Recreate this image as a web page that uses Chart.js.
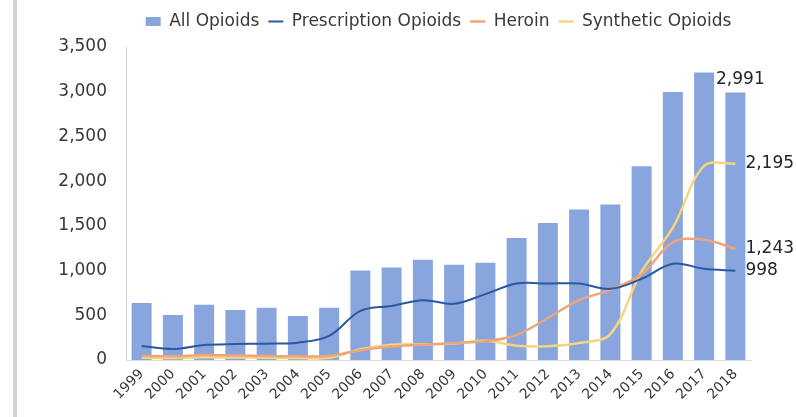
<!DOCTYPE html>
<html>
<head>
<meta charset="utf-8">
<script src="https://cdn.jsdelivr.net/npm/chart.js@4.4.0/dist/chart.umd.min.js"></script>
<style>
  html, body { margin: 0; padding: 0; background: #fff; }
</style>
</head>
<body>
<canvas id="myChart" width="796" height="417"></canvas>
<script>
const years = ['1999', '2000', '2001', '2002', '2003', '2004', '2005', '2006', '2007', '2008',
               '2009', '2010', '2011', '2012', '2013', '2014', '2015', '2016', '2017', '2018'];

const allOpioids = [636, 504, 617, 560, 583, 493, 583, 1001, 1035, 1121,
                    1065, 1087, 1364, 1532, 1682, 1738, 2167, 2997, 3214, 2991];
const prescriptionOpioids = [157, 123, 168, 179, 183, 194, 269, 549, 605, 669,
                             628, 737, 855, 855, 855, 796, 908, 1076, 1020, 998];
const heroin = [45, 42, 55, 50, 45, 42, 45, 110, 150, 170,
                190, 210, 280, 470, 670, 785, 960, 1315, 1345, 1243];
const syntheticOpioids = [25, 22, 30, 28, 25, 22, 25, 120, 170, 175,
                          185, 215, 160, 155, 190, 290, 990, 1480, 2170, 2195];

const yMax = 3500;
const yStep = 500;

const textColor = '#383838';
const fontFamily = '"DejaVu Sans", Verdana, sans-serif';

// thin grey rule down the left edge of the figure
const edgeRule = {
  id: 'edgeRule',
  beforeDraw(chart) {
    const ctx = chart.ctx;
    ctx.save();
    ctx.fillStyle = '#d2d2d2';
    ctx.fillRect(13, 0, 4, chart.height);
    ctx.restore();
  }
};

// fixed legend band height so the plot starts right under it
const legendBand = {
  id: 'legendBand',
  beforeInit(chart) {
    const fit = chart.legend.fit;
    chart.legend.fit = function () {
      fit.call(this);
      this.height = 43;
    };
  }
};

// value labels on the last year of every series
const endLabels = {
  id: 'endLabels',
  afterDatasetsDraw(chart) {
    const ctx = chart.ctx;
    ctx.save();
    ctx.font = '17px ' + fontFamily;
    ctx.fillStyle = '#262626';
    chart.data.datasets.forEach((ds, i) => {
      const meta = chart.getDatasetMeta(i);
      const last = ds.data.length - 1;
      const el = meta.data[last];
      const text = ds.data[last].toLocaleString('en-US');
      if (ds.type === 'bar') {
        ctx.textAlign = 'center';
        ctx.textBaseline = 'bottom';
        ctx.fillText(text, el.x + 5, el.y - 4);
      } else {
        ctx.textAlign = 'left';
        ctx.textBaseline = 'middle';
        ctx.fillText(text, el.x + 10, el.y);
      }
    });
    ctx.restore();
  }
};

const ctx = document.getElementById('myChart').getContext('2d');
const myChart = new Chart(ctx, {
  data: {
    labels: years,
    datasets: [{
      type: 'bar',
      label: 'All Opioids',
      data: allOpioids,
      backgroundColor: '#88a5de',
      categoryPercentage: 1,
      barPercentage: 0.64,
      pointStyle: 'rect',
      order: 1
    }, {
      type: 'line',
      label: 'Prescription Opioids',
      data: prescriptionOpioids,
      borderColor: '#2b58a2',
      borderWidth: 2,
      pointRadius: 0,
      pointStyle: 'line',
      tension: 0.35,
      order: 0
    }, {
      type: 'line',
      label: 'Heroin',
      data: heroin,
      borderColor: '#eea57a',
      borderWidth: 2.5,
      pointRadius: 0,
      pointStyle: 'line',
      tension: 0.35,
      order: 0
    }, {
      type: 'line',
      label: 'Synthetic Opioids',
      data: syntheticOpioids,
      borderColor: '#f6d57c',
      borderWidth: 2.5,
      pointRadius: 0,
      pointStyle: 'line',
      tension: 0.35,
      order: 0
    }]
  },
  options: {
    responsive: false,
    animation: false,
    layout: {
      padding: { top: 4, right: 45, left: 0, bottom: 0 }
    },
    scales: {
      x: {
        offset: true,
        grid: { display: false, drawTicks: false },
        border: { display: true, color: '#dcdcdc' },
        ticks: {
          color: textColor,
          font: { family: fontFamily, size: 14 },
          minRotation: 45,
          maxRotation: 45,
          autoSkip: false,
          padding: 6
        },
        afterFit(scale) { scale.height = 57; }
      },
      y: {
        min: 0,
        max: yMax,
        grid: { display: false, drawTicks: false },
        border: { display: true, color: '#d6d6d6' },
        ticks: {
          stepSize: yStep,
          color: textColor,
          font: { family: fontFamily, size: 17 },
          padding: 19
        },
        afterFit(scale) { scale.width = 126; }
      }
    },
    plugins: {
      tooltip: { enabled: false },
      legend: {
        position: 'top',
        fullSize: false,
        labels: {
          color: textColor,
          font: { family: fontFamily, size: 17 },
          usePointStyle: true,
          pointStyleWidth: 15,
          boxHeight: 9,
          padding: 9,
          sort: (a, b) => a.datasetIndex - b.datasetIndex
        }
      }
    }
  },
  plugins: [edgeRule, legendBand, endLabels]
});
</script>
</body>
</html>
